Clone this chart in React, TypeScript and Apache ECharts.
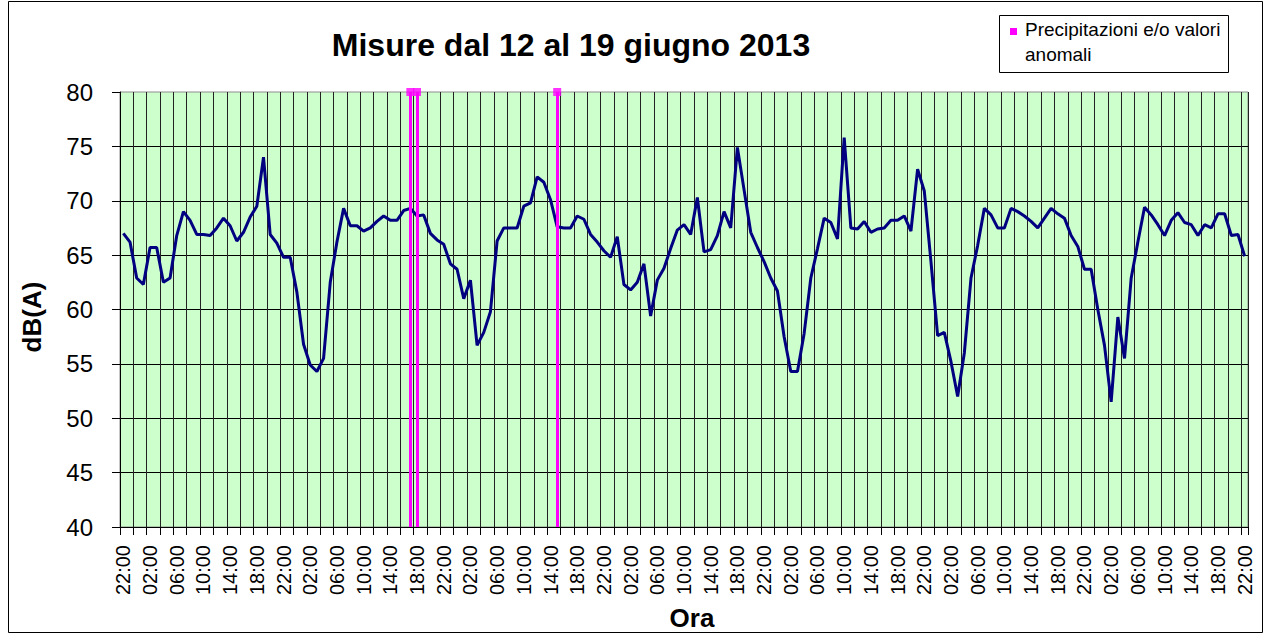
import React, { useEffect, useRef } from "react";
import * as echarts from "echarts";

// ---- data ----
const startHour = 22;
const pointCount = 169;
const categories: string[] = Array.from({ length: pointCount }, (_, i) =>
  String((startHour + i) % 24).padStart(2, "0") + ":00"
);

const dbValues: number[] = [
  67.0, 66.2, 62.9, 62.3, 65.7, 65.7, 62.5, 62.9, 66.8, 69.0,
  68.2, 66.9, 66.9, 66.8, 67.5, 68.4, 67.7, 66.3, 67.1, 68.5,
  69.5, 74.0, 66.9, 66.1, 64.8, 64.8, 61.6, 56.8, 54.9, 54.3,
  55.5, 62.5, 66.2, 69.3, 67.7, 67.7, 67.2, 67.5, 68.1, 68.6,
  68.2, 68.2, 69.1, 69.3, 68.6, 68.7, 67.0, 66.4, 66.0, 64.2,
  63.7, 61.0, 62.7, 56.7, 57.9, 59.8, 66.3, 67.5, 67.5, 67.5,
  69.5, 69.8, 72.2, 71.7, 70.1, 67.6, 67.5, 67.5, 68.6, 68.3,
  66.9, 66.2, 65.4, 64.8, 66.7, 62.3, 61.8, 62.5, 64.2, 59.4,
  62.7, 63.8, 65.6, 67.3, 67.8, 66.9, 70.3, 65.3, 65.5, 66.8,
  69.0, 67.5, 74.9, 71.0, 67.1, 65.7, 64.4, 62.9, 61.7, 57.5,
  54.3, 54.3, 57.8, 62.9, 65.6, 68.4, 68.0, 66.5, 75.8, 67.5,
  67.4, 68.1, 67.1, 67.4, 67.5, 68.2, 68.2, 68.6, 67.2, 72.9,
  70.9, 64.4, 57.6, 57.9, 55.2, 52.0, 56.0, 62.9, 65.9, 69.3,
  68.7, 67.5, 67.5, 69.3, 69.0, 68.6, 68.1, 67.5, 68.4, 69.3,
  68.8, 68.4, 66.8, 65.8, 63.7, 63.7, 60.0, 56.7, 51.5, 59.3,
  55.5, 62.9, 66.2, 69.4, 68.7, 67.8, 66.8, 68.2, 68.9, 68.0,
  67.8, 66.8, 67.8, 67.5, 68.8, 68.8, 66.8, 66.9, 64.9,
];

const anomalyIndices: number[] = [43, 44, 65];
const anomalyValue = 80;

const yTicks = { min: 40, max: 80, interval: 5 };

const titleText = "Misure dal 12 al 19 giugno 2013";
const xAxisTitle = "Ora";
const yAxisTitle = "dB(A)";
const lineSeriesName = "Livello sonoro";
const anomalySeriesName = "Precipitazioni e/o valori anomali";
const legendLabel = "Precipitazioni e/o valori\nanomali";

const FONT = "'Liberation Sans', Arial, Helvetica, sans-serif";

export default function App() {
  const ref = useRef<HTMLDivElement>(null);

  useEffect(() => {
    document.body.style.margin = "0";
    if (!ref.current) return;
    const chart = echarts.init(ref.current, undefined, { renderer: "svg" });

    const option: any = {
      animation: false,
      backgroundColor: "#ffffff",
      textStyle: { fontFamily: FONT },
      grid: {
        left: 120,
        top: 92,
        right: 17,
        bottom: 108,
        show: true,
        backgroundColor: "#CCFFCC",
        borderColor: "#8c8c8c",
        borderWidth: 1,
      },
      xAxis: {
        type: "category",
        data: categories,
        boundaryGap: true,
        axisLine: { show: true, lineStyle: { color: "#000", width: 1 } },
        axisTick: { show: true, interval: 1, length: 8, lineStyle: { color: "#000" } },
        axisLabel: {
          interval: 3,
          rotate: 90,
          margin: 18,
          fontSize: 20,
          color: "#000",
          fontFamily: FONT,
        },
        splitLine: { show: true, interval: 1, lineStyle: { color: "#222", width: 1 } },
      },
      yAxis: {
        type: "value",
        min: yTicks.min,
        max: yTicks.max,
        interval: yTicks.interval,
        axisLine: { show: true, lineStyle: { color: "#000", width: 1 } },
        axisTick: { show: true, length: 8, lineStyle: { color: "#000" } },
        axisLabel: { fontSize: 24, margin: 27, color: "#000", fontFamily: FONT },
        splitLine: { show: true, showMaxLine: false, lineStyle: { color: "#000", width: 1 } },
      },
      series: [
        {
          name: lineSeriesName,
          type: "line",
          data: dbValues,
          symbol: "none",
          showSymbol: false,
          lineStyle: { color: "#000080", width: 3 },
          itemStyle: { color: "#000080" },
          z: 2,
        },
        {
          name: anomalySeriesName,
          type: "scatter",
          data: anomalyIndices.map((i) => [i, anomalyValue]),
          symbol: "rect",
          symbolSize: 8,
          itemStyle: { color: "#FF00FF" },
          z: 4,
          markLine: {
            silent: true,
            symbol: "none",
            label: { show: false },
            lineStyle: { color: "#FF00FF", width: 3, type: "solid" },
            data: anomalyIndices.map((i) => ({ xAxis: i })),
          },
        },
      ],
      graphic: [
        {
          type: "rect",
          shape: { x: 8.5, y: 1.5, width: 1254, height: 631 },
          style: { fill: "none", stroke: "#000", lineWidth: 1 },
          silent: true,
          z: 0,
        },
        {
          type: "text",
          x: 571,
          y: 45,
          style: {
            text: titleText,
            fontSize: 32,
            fontWeight: "bold",
            fontFamily: FONT,
            fill: "#000",
            align: "center",
            verticalAlign: "middle",
          },
        },
        {
          type: "text",
          x: 692,
          y: 618,
          style: {
            text: xAxisTitle,
            fontSize: 26,
            fontWeight: "bold",
            fontFamily: FONT,
            fill: "#000",
            align: "center",
            verticalAlign: "middle",
          },
        },
        {
          type: "text",
          x: 32,
          y: 317,
          rotation: Math.PI / 2,
          style: {
            text: yAxisTitle,
            fontSize: 26,
            fontWeight: "bold",
            fontFamily: FONT,
            fill: "#000",
            align: "center",
            verticalAlign: "middle",
          },
        },
        {
          type: "group",
          children: [
            {
              type: "rect",
              shape: { x: 999.5, y: 15.5, width: 229, height: 57 },
              style: { fill: "#fff", stroke: "#000", lineWidth: 1 },
            },
            {
              type: "rect",
              shape: { x: 1010, y: 28, width: 7, height: 7 },
              style: { fill: "#FF00FF" },
            },
            {
              type: "text",
              x: 1025,
              y: 16.5,
              style: {
                text: legendLabel,
                fontSize: 19,
                lineHeight: 25,
                fontFamily: FONT,
                fill: "#000",
                align: "left",
                verticalAlign: "top",
              },
            },
          ],
        },
      ],
    };

    chart.setOption(option);
    return () => {
      chart.dispose();
    };
  }, []);

  return <div ref={ref} style={{ width: 1265, height: 635 }} />;
}
